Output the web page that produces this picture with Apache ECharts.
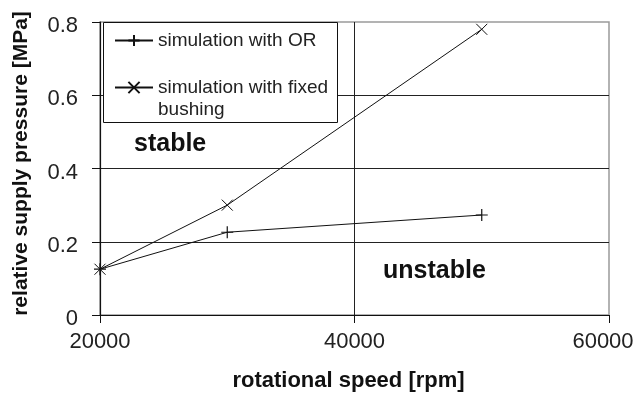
<!DOCTYPE html>
<html>
<head>
<meta charset="utf-8">
<script src="https://cdn.jsdelivr.net/npm/echarts@6/dist/echarts.min.js"></script>
<style>
  html, body { margin: 0; padding: 0; background: #fff; }
  #chart { width: 634px; height: 395px; }
</style>
</head>
<body>
<div id="chart"></div>
<script>
// Rotational speed [rpm] at which the supply pressure was simulated
const speed = [20000, 30000, 50000];
// Relative supply pressure [MPa] at the stability threshold
const pressureOR = [0.125, 0.226, 0.273];
const pressureFixed = [0.125, 0.300, 0.780];

const seriesNames = ['simulation with OR', 'simulation with fixed bushing'];
const xTicks = { min: 20000, max: 60000, step: 20000 };
const yTicks = { min: 0, max: 0.8, step: 0.2 };

const FONT = 'Liberation Sans, Arial, sans-serif';
const PLUS = 'path://M5,0L5,10M0,5L10,5';
const CROSS = 'path://M0,0L10,10M10,0L0,10';

function pairs(xs, ys) {
  return xs.map((x, i) => [x, ys[i]]);
}

const chart = echarts.init(document.getElementById('chart'), null, { renderer: 'canvas' });

chart.setOption({
  animation: false,
  backgroundColor: '#fff',
  textStyle: { fontFamily: FONT },
  grid: {
    left: 100, right: 25, top: 22, bottom: 80,
    outerBoundsMode: 'none',
    containLabel: false,
    show: true, borderColor: '#9a9a9a', borderWidth: 1.5, backgroundColor: 'transparent'
  },
  xAxis: {
    type: 'value',
    min: xTicks.min, max: xTicks.max, interval: xTicks.step,
    name: 'rotational speed [rpm]',
    nameLocation: 'middle',
    nameGap: 55,
    nameTextStyle: { fontFamily: FONT, fontSize: 22, fontWeight: 'bold', color: '#111', padding: [0, 12, 0, 0] },
    axisLine: { show: true, lineStyle: { color: '#111', width: 1.2 } },
    axisTick: { show: true, inside: false, length: 8, lineStyle: { color: '#111' } },
    axisLabel: {
      margin: 16, fontFamily: FONT, fontSize: 22, color: '#222',
      formatter: v => (v === xTicks.max ? '{last|' + v + '}' : String(v)),
      rich: {
        last: { fontFamily: FONT, fontSize: 22, color: '#222', padding: [0, 12, 0, 0] }
      }
    },
    splitLine: { show: true, showMinLine: false, showMaxLine: false, lineStyle: { color: '#222', width: 1 } }
  },
  yAxis: {
    type: 'value',
    min: yTicks.min, max: yTicks.max, interval: yTicks.step,
    name: 'relative supply pressure [MPa]',
    nameLocation: 'middle',
    nameGap: 68,
    nameRotate: 90,
    nameTextStyle: { fontFamily: FONT, fontSize: 21, fontWeight: 'bold', color: '#111', padding: [0, 0, 0, 10] },
    axisLine: { show: true, lineStyle: { color: '#111', width: 1.2 } },
    axisTick: { show: true, inside: false, length: 8, lineStyle: { color: '#111' } },
    axisLabel: {
      margin: 22, fontFamily: FONT, fontSize: 22, color: '#222',
      formatter: v => '{v|' + (Math.round(v * 10) / 10) + '}',
      rich: {
        v: { fontFamily: FONT, fontSize: 22, color: '#222', padding: [8, 0, 0, 0] }
      }
    },
    splitLine: { show: true, showMinLine: false, showMaxLine: false, lineStyle: { color: '#222', width: 1 } }
  },
  legend: {
    orient: 'vertical',
    left: 114, top: 31,
    padding: 0,
    itemWidth: 38, itemHeight: 14, itemGap: 28,
    backgroundColor: 'transparent',
    textStyle: { fontFamily: FONT, fontSize: 19, color: '#222', lineHeight: 14 },
    formatter: name => name === seriesNames[1] ? 'simulation with fixed' : name,
    data: seriesNames,
    z: 6
  },
  graphic: [
    {
      type: 'rect', z: 5,
      shape: { x: 103.5, y: 22.5, width: 234, height: 100 },
      style: { fill: '#fff', stroke: '#111', lineWidth: 1 }
    },
    {
      type: 'text', z: 7, left: 158, top: 100,
      style: { text: 'bushing', font: '19px ' + FONT, fill: '#222' }
    },
    {
      type: 'text', z: 7, left: 134, top: 132,
      style: { text: 'stable', font: 'bold 25px ' + FONT, fill: '#111' }
    },
    {
      type: 'text', z: 7, left: 383, top: 259,
      style: { text: 'unstable', font: 'bold 25px ' + FONT, fill: '#111' }
    }
  ],
  series: [
    {
      name: seriesNames[0],
      type: 'line',
      data: pairs(speed, pressureOR),
      symbol: PLUS,
      symbolSize: 12,
      showAllSymbol: true,
      lineStyle: { color: '#111', width: 1 },
      itemStyle: { color: '#111', borderColor: '#111', borderWidth: 1.2 },
      emphasis: { disabled: true },
      z: 3
    },
    {
      name: seriesNames[1],
      type: 'line',
      data: pairs(speed, pressureFixed),
      symbol: CROSS,
      symbolSize: 11,
      showAllSymbol: true,
      lineStyle: { color: '#111', width: 1 },
      itemStyle: { color: '#111', borderColor: '#111', borderWidth: 1 },
      emphasis: { disabled: true },
      z: 3
    }
  ]
});
</script>
</body>
</html>
